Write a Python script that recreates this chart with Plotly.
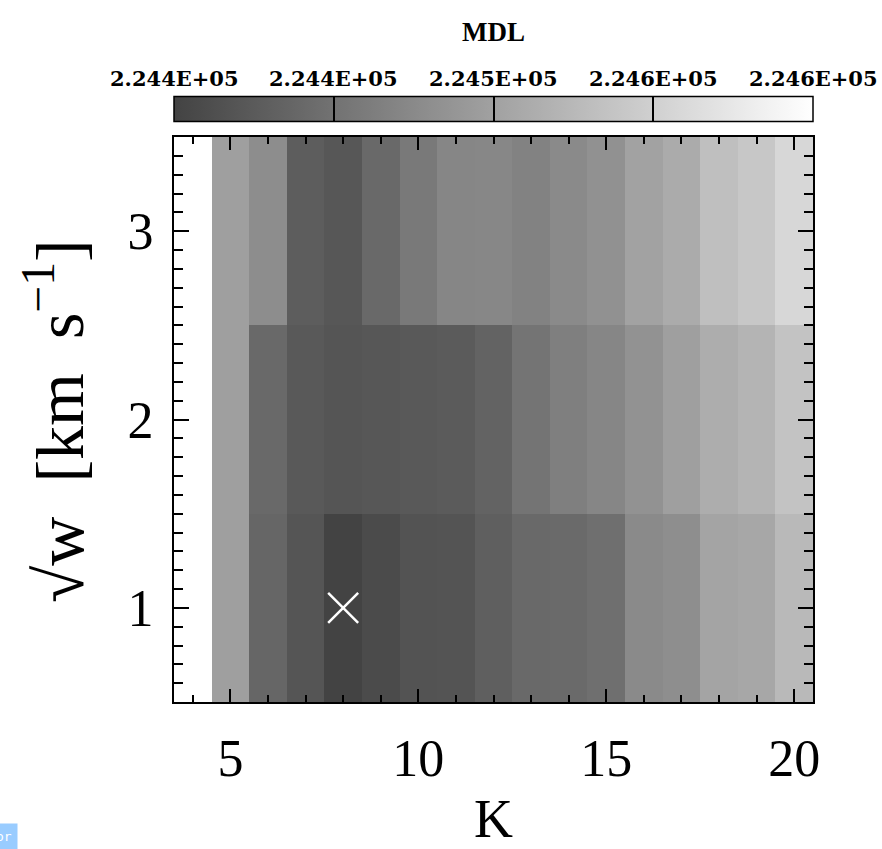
import numpy as np
import plotly.graph_objects as go

# Number of components K and kernel width sqrt(w) [km/s]
K_values = list(range(4, 21))
sqrt_w_values = [1, 2, 3]

# MDL score grid: one row per sqrt(w), one column per K
mdl_w1 = [224900, 224498, 224425, 224403, 224380, 224390, 224401, 224402, 224416,
          224429, 224430, 224436, 224470, 224476, 224504, 224508, 224531]
mdl_w2 = [224900, 224498, 224429, 224408, 224403, 224406, 224408, 224411, 224421,
          224443, 224457, 224465, 224481, 224498, 224515, 224524, 224543]
mdl_w3 = [224900, 224498, 224475, 224413, 224406, 224429, 224449, 224466, 224467,
          224460, 224470, 224479, 224501, 224513, 224538, 224548, 224569]

# Colour scale limits and colour-bar ticks
mdl_min = 224380
mdl_max = 224620
cbar_ticks = list(np.linspace(mdl_min, mdl_max, 5))
cbar_text = [f"{v:.3E}" for v in cbar_ticks]

# Best model (minimum MDL)
best_K = [8]
best_sqrt_w = [1]

z = [mdl_w1, mdl_w2, mdl_w3]

serif = "Liberation Serif"
bold_serif = "DejaVu Serif"

# Figure geometry (pixels)
W, H = 882, 849
ML, MR, MT, MB = 174, 69, 137, 147
PW, PH = W - ML - MR, H - MT - MB


def px_x(px):
    """Pixel column -> paper x."""
    return (px - ML) / PW


def px_y(py):
    """Pixel row (from top) -> paper y."""
    return (H - MB - py) / PH


fig = go.Figure()
fig.add_trace(go.Heatmap(
    x=K_values, y=sqrt_w_values, z=z,
    zmin=mdl_min, zmax=mdl_max,
    colorscale=[[0, "#434343"], [1, "#ffffff"]],
    colorbar=dict(
        orientation="h",
        x=0, xanchor="left", xref="paper",
        y=px_y(148), yanchor="bottom", yref="paper",
        len=1, lenmode="fraction",
        thickness=25,
        xpad=0, ypad=0,
        outlinewidth=1.5, outlinecolor="black",
        tickmode="array", tickvals=cbar_ticks,
        ticks="inside", ticklen=25, tickwidth=1.5, tickcolor="black",
        showticklabels=False,
    ),
    showscale=True,
))

fig.add_trace(go.Scatter(
    x=best_K, y=best_sqrt_w, mode="markers",
    marker=dict(symbol="x-thin", size=30, line=dict(color="white", width=2.5)),
    showlegend=False, hoverinfo="skip",
))

axis_common = dict(
    showline=True, linecolor="black", linewidth=2, mirror="ticks",
    ticks="inside", tickcolor="black", tickwidth=2,
    showgrid=False, zeroline=False, automargin=False,
    tickfont=dict(family=serif, size=52, color="black"),
)

fig.update_xaxes(
    range=[3.5, 20.5], tickmode="array", tickvals=[5, 10, 15, 20],
    ticklen=13, ticklabelstandoff=10,
    minor=dict(dtick=1, ticks="inside", ticklen=7, tickwidth=2, tickcolor="black", showgrid=False),
    **axis_common,
)
fig.update_yaxes(
    range=[0.5, 3.5], tickmode="array", tickvals=[1, 2, 3],
    ticklen=15, ticklabelstandoff=8,
    minor=dict(dtick=0.1, ticks="inside", ticklen=9, tickwidth=2, tickcolor="black", showgrid=False),
    **axis_common,
)

# Axis titles
fig.add_annotation(
    text="K", xref="paper", yref="paper", x=0.5, y=px_y(819),
    xanchor="center", yanchor="middle", showarrow=False,
    font=dict(family=serif, size=54, color="black"),
)
fig.add_annotation(
    text="√w  [km  s<sup>−1</sup>]", xref="paper", yref="paper",
    x=px_x(55), y=px_y(421), textangle=-90,
    xanchor="center", yanchor="middle", showarrow=False,
    font=dict(family=serif, size=68, color="black"),
)

# Colour-bar title and tick labels above the bar
fig.add_annotation(
    text="<b>MDL</b>", xref="paper", yref="paper", x=0.5, y=px_y(32),
    xanchor="center", yanchor="middle", showarrow=False,
    font=dict(family=serif, size=27, color="black"),
)
for i, label in enumerate(cbar_text):
    frac = (cbar_ticks[i] - mdl_min) / (mdl_max - mdl_min)
    fig.add_annotation(
        text=f"<b>{label}</b>", xref="paper", yref="paper", x=frac, y=px_y(78),
        xanchor="center", yanchor="middle", showarrow=False,
        font=dict(family=bold_serif, size=21, color="black"),
    )

fig.add_annotation(
    text="or", xref="paper", yref="paper", x=px_x(18), y=px_y(836),
    xanchor="right", yanchor="middle", showarrow=False,
    bgcolor="#99ccff", font=dict(family="DejaVu Sans Mono", size=13, color="white"),
    borderpad=5,
)

fig.update_layout(
    width=W, height=H,
    margin=dict(l=ML, r=MR, t=MT, b=MB, autoexpand=False),
    paper_bgcolor="white", plot_bgcolor="white",
    showlegend=False,
)

fig.write_html("out.html")
